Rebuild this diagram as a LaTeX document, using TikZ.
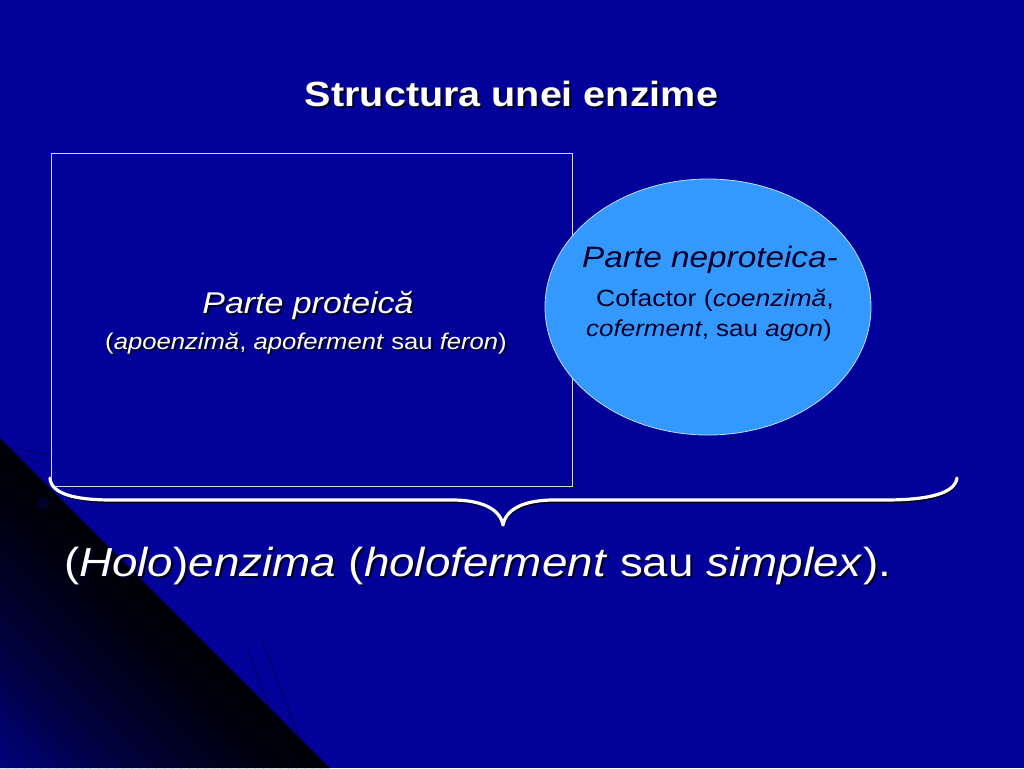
\documentclass[tikz,border=0pt]{standalone}
\usepackage{fontspec}
\setmainfont{Liberation Sans}
\usetikzlibrary{shapes.geometric}
\definecolor{bg}{RGB}{2,2,154}
\definecolor{ellfill}{RGB}{51,153,255}
\definecolor{ellline}{RGB}{190,220,255}
\definecolor{darktxt}{RGB}{0,0,40}
\definecolor{shadowc}{RGB}{0,0,35}
\definecolor{rectline}{RGB}{215,215,230}
\newcommand{\fsz}[1]{\fontsize{#1}{#1}\selectfont}
\newcommand{\shtext}[4]{%
  \node[stxt] at ({#2+2},{#3+2}) {#4};
  \node[wtxt] (#1) at (#2,#3) {#4};}
\tikzset{
  wtxt/.style={text=white, anchor=base, inner sep=0pt, xscale=1.13},
  stxt/.style={text=shadowc, anchor=base, inner sep=0pt, xscale=1.13},
  dtxt/.style={text=darktxt, anchor=base, inner sep=0pt, xscale=1.13},
  bracepath/.style={line width=3.2pt, line cap=round, line join=round},
  decoline/.style={line width=0.6pt, draw=black, opacity=0.5},
}
\begin{document}
\begin{tikzpicture}[x=1pt,y=-1pt]
\useasboundingbox (0,0) rectangle (1024,768);
\fill[bg] (0,0) rectangle (1024,768);
% dark shaded triangle, lower left
\foreach \k in {0,...,40}{
  \pgfmathsetmacro\ta{438+\k*8.25}
  \pgfmathsetmacro\tb{min(768,\ta+9)}
  \pgfmathsetmacro\p{5+78*(\k/40)^1.5}
  \fill[bg!\p!black] (0,\ta) -- ({768-\ta},768) -- ({768-\tb},768) -- (0,\tb) -- cycle;
}
% faint decoration
\draw[decoline] (12,448) -- (50,455);
\draw[decoline] (20,456) -- (50,466);
\fill[bg!30!black] (43,503) circle (6);
\draw[line width=0.5pt, draw=bg!40!black] (248,650) -- (292,768);
\draw[line width=0.5pt, draw=bg!40!black] (262,640) -- (300,740);
% title
\shtext{title}{511.5}{106}{\fsz{35}\bfseries Structura unei enzime}
% protein part
\node[draw=rectline, line width=0.8pt, minimum width=521pt, minimum height=333pt,
      inner sep=0pt, anchor=north west] (prot) at (51,153) {};
\shtext{protA}{308}{313}{\fsz{30}\itshape Parte proteică}
\shtext{protB}{306}{349}{\fsz{22.7}(\textit{apoenzimă}, \textit{apoferment} sau \textit{feron})}
% cofactor ellipse
\node[ellipse, draw=ellline, line width=0.8pt, fill=ellfill, minimum width=326pt,
      minimum height=256pt, inner sep=0pt] (cof) at (708,307) {};
\node[dtxt] (cofA) at (710,267) {\fsz{29.5}\itshape Parte neproteica-};
\node[dtxt] (cofB) at (715,306) {\fsz{23.5}Cofactor (\textit{coenzimă},};
\node[dtxt] (cofC) at (709,336) {\fsz{23}\textit{coferment}, sau \textit{agon})};
% brace
\coordinate (bl) at (50,478);
\coordinate (br) at (957,478);
\coordinate (tip) at (503,525);
\begin{scope}[shift={(1.5,1.5)}]
\draw[bracepath, draw=shadowc] (bl) .. controls (51,494) and (75,500) .. (112,500) -- (452,500)
  .. controls (482,500) and (500,509) .. (tip) .. controls (506,509) and (524,500) .. (554,500)
  -- (885,500) .. controls (930,500) and (955,493) .. (br);
\end{scope}
\draw[bracepath, draw=white] (bl) .. controls (51,494) and (75,500) .. (112,500) -- (452,500)
  .. controls (482,500) and (500,509) .. (tip) .. controls (506,509) and (524,500) .. (554,500)
  -- (885,500) .. controls (930,500) and (955,493) .. (br);
% holoenzyme
\shtext{holo}{477.5}{576}{\fsz{40.5}(\textit{Holo})\textit{enzima} (\textit{holoferment} sau \textit{simplex}).}
\end{tikzpicture}
\end{document}
